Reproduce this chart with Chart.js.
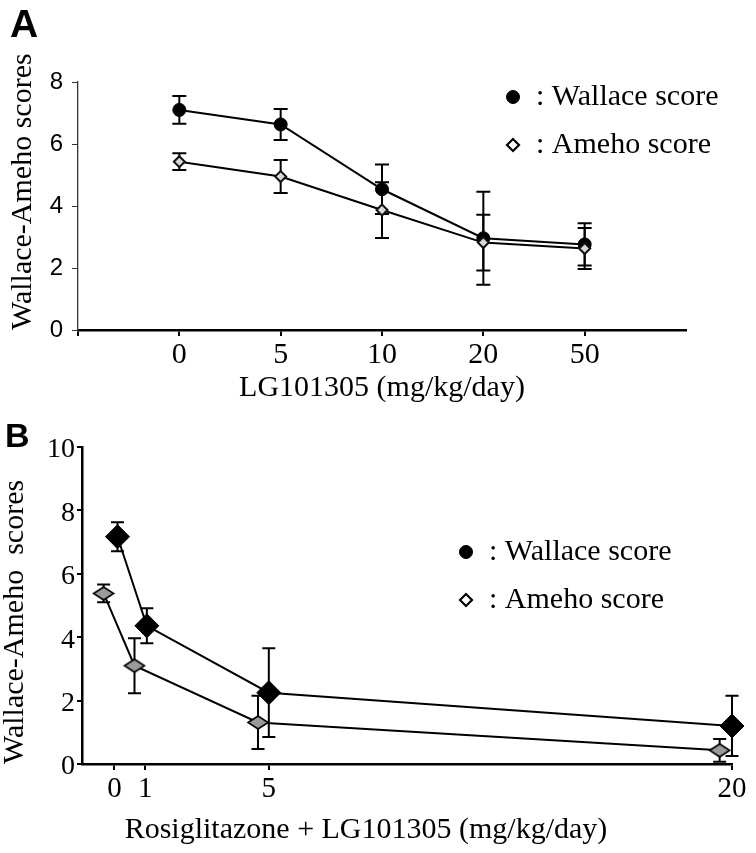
<!DOCTYPE html>
<html><head><meta charset="utf-8">
<script src="https://cdn.jsdelivr.net/npm/chart.js@4.4.1/dist/chart.umd.min.js"></script>
<style>
html,body{margin:0;padding:0;background:#fff;width:756px;height:853px;overflow:hidden;position:relative}
canvas{position:absolute;left:0}
#cA{top:0}
#cB{top:405px}
.lbl{position:absolute;font-family:'Liberation Sans',Arial,sans-serif;font-weight:bold;line-height:1;color:#000}
</style></head><body>
<canvas id="cA" width="756" height="405"></canvas>
<canvas id="cB" width="756" height="448"></canvas>
<div class="lbl" style="left:10px;top:4px;font-size:39px">A</div>
<div class="lbl" style="left:5px;top:418px;font-size:34px">B</div>
<script>
// ---------- Panel A data ----------
const xLabelsA = ['0', '5', '10', '20', '50'];
const wallaceA = [7.10, 6.63, 4.54, 2.96, 2.76];
const wallaceErrA = [0.45, 0.50, 0.80, 1.50, 0.68];
const amehoA = [5.43, 4.95, 3.87, 2.82, 2.63];
const amehoErrA = [0.27, 0.53, 0.90, 0.90, 0.66];
const yTicksA = [0, 2, 4, 6, 8];

// ---------- Panel B data ----------
const xTicksB = [0, 1, 5, 20];
const wallaceXB = [0.10, 1.05, 5.00, 20.00];
const wallaceB = [7.17, 4.36, 2.25, 1.20];
const wallaceErrB = [0.46, 0.55, 1.40, 0.95];
const amehoXB = [-0.35, 0.65, 4.65, 19.60];
const amehoB = [5.38, 3.10, 1.31, 0.43];
const amehoErrB = [0.28, 0.87, 0.84, 0.36];
const yTicksB = [0, 2, 4, 6, 8, 10];

const seriesNames = ['Wallace score', 'Ameho score'];

const SERIF = "'Liberation Serif','Times New Roman',serif";
const SANS = "'Liberation Sans',Arial,sans-serif";

Chart.defaults.animation = false;
Chart.defaults.responsive = false;
Chart.defaults.devicePixelRatio = 1;
Chart.defaults.plugins.legend.display = false;
Chart.defaults.plugins.tooltip.enabled = false;

const errorBars = {
  id: 'errorBars',
  beforeDatasetsDraw(chart, args, o) {
    const ctx = chart.ctx, xs = chart.scales.x, ys = chart.scales.y;
    chart.data.datasets.forEach(ds => {
      if (!ds.errors) return;
      ctx.save();
      ctx.strokeStyle = '#000';
      ctx.lineWidth = o.lineWidth;
      ds.data.forEach((p, i) => {
        const e = ds.errors[i];
        const x = xs.getPixelForValue(p.x);
        const y1 = ys.getPixelForValue(p.y + e), y2 = ys.getPixelForValue(p.y - e);
        ctx.beginPath();
        ctx.moveTo(x, y1); ctx.lineTo(x, y2);
        ctx.moveTo(x - o.cap, y1); ctx.lineTo(x + o.cap, y1);
        ctx.moveTo(x - o.cap, y2); ctx.lineTo(x + o.cap, y2);
        ctx.stroke();
      });
      ctx.restore();
    });
  }
};

const sketchLegend = {
  id: 'sketchLegend',
  afterDraw(chart, args, o) {
    const ctx = chart.ctx;
    ctx.save();
    chart.data.datasets.forEach((ds, i) => {
      const m = o.markers[i];
      const y = o.y + i * o.gap;
      ctx.beginPath();
      if (m.shape === 'circle') {
        ctx.arc(o.mx, y, m.r, 0, Math.PI * 2);
      } else {
        ctx.moveTo(o.mx - m.r, y); ctx.lineTo(o.mx, y - m.r);
        ctx.lineTo(o.mx + m.r, y); ctx.lineTo(o.mx, y + m.r); ctx.closePath();
      }
      ctx.fillStyle = m.fill; ctx.fill();
      ctx.lineWidth = m.lw; ctx.strokeStyle = '#000'; ctx.stroke();
      ctx.fillStyle = '#000';
      ctx.font = o.font;
      ctx.textBaseline = 'middle';
      ctx.textAlign = 'left';
      ctx.fillText(': ' + ds.label, o.tx, y);
    });
    ctx.restore();
  }
};

// flattened grey diamond for panel B Ameho points
function flatDiamond(w, h, fill) {
  const c = document.createElement('canvas');
  c.width = w + 4; c.height = h + 4;
  const g = c.getContext('2d');
  g.beginPath();
  g.moveTo(2, 2 + h / 2); g.lineTo(2 + w / 2, 2); g.lineTo(2 + w, 2 + h / 2); g.lineTo(2 + w / 2, 2 + h); g.closePath();
  g.fillStyle = fill; g.fill();
  g.lineWidth = 1.6; g.strokeStyle = '#000'; g.stroke();
  return c;
}

// ---------------- Chart A ----------------
new Chart(document.getElementById('cA'), {
  type: 'line',
  data: {
    datasets: [
      {
        label: seriesNames[0],
        data: xLabelsA.map((_, i) => ({ x: i, y: wallaceA[i] })),
        errors: wallaceErrA,
        borderColor: '#000', borderWidth: 2,
        pointStyle: 'circle', pointRadius: 6.5,
        pointBackgroundColor: '#000', pointBorderColor: '#000', pointBorderWidth: 1,
        order: 1, clip: false
      },
      {
        label: seriesNames[1],
        data: xLabelsA.map((_, i) => ({ x: i, y: amehoA[i] })),
        errors: amehoErrA,
        borderColor: '#000', borderWidth: 2,
        pointStyle: 'rectRot', pointRadius: 5.5,
        pointBackgroundColor: '#d8d8d8', pointBorderColor: '#111', pointBorderWidth: 2,
        order: 0, clip: false
      }
    ]
  },
  options: {
    layout: { padding: { top: 82, right: 70, left: 0, bottom: 0 } },
    scales: {
      x: {
        type: 'linear', min: -1, max: xLabelsA.length,
        ticks: {
          stepSize: 1, autoSkip: false, maxRotation: 0,
          callback: v => (xLabelsA[v] !== undefined ? xLabelsA[v] : ''),
          font: { family: SERIF, size: 30, lineHeight: 1 }, color: '#000', padding: 4
        },
        grid: {
          drawOnChartArea: false, tickLength: 6, lineWidth: 2,
          color: c => (c.tick && c.tick.value === xLabelsA.length ? 'rgba(0,0,0,0)' : '#000')
        },
        border: { color: '#000', width: 2.5 },
        title: {
          display: true, text: 'LG101305 (mg/kg/day)', color: '#000',
          font: { family: SERIF, size: 30, lineHeight: 1 }, padding: { top: 0, bottom: 2 }
        },
        afterFit: s => { s.height = 75; }
      },
      y: {
        min: 0, max: 8,
        afterBuildTicks: s => { s.ticks = yTicksA.map(v => ({ value: v })); },
        ticks: { font: { family: SANS, size: 24, lineHeight: 1 }, color: '#000', padding: 9 },
        grid: { drawOnChartArea: false, tickLength: 6, color: '#333', lineWidth: 1 },
        border: { color: '#333', width: 1.3 },
        title: {
          display: true, text: 'Wallace-Ameho scores', align: 'start', color: '#000',
          font: { family: SERIF, size: 30, lineHeight: 1 }, padding: { top: 8, bottom: 0 }
        },
        afterFit: s => { s.width = 78; }
      }
    },
    plugins: {
      errorBars: { cap: 7, lineWidth: 2 },
      sketchLegend: {
        mx: 513, tx: 536, y: 97, gap: 48, font: '30px ' + SERIF,
        markers: [
          { shape: 'circle', r: 6.5, fill: '#000', lw: 1 },
          { shape: 'diamond', r: 6, fill: '#fff', lw: 2.2 }
        ]
      }
    }
  },
  plugins: [errorBars, sketchLegend]
});

// ---------------- Chart B ----------------
new Chart(document.getElementById('cB'), {
  type: 'line',
  data: {
    datasets: [
      {
        label: seriesNames[0],
        data: wallaceXB.map((x, i) => ({ x: x, y: wallaceB[i] })),
        errors: wallaceErrB,
        borderColor: '#000', borderWidth: 2,
        pointStyle: 'rectRot', pointRadius: 12,
        pointBackgroundColor: '#000', pointBorderColor: '#000', pointBorderWidth: 1,
        order: 1, clip: false
      },
      {
        label: seriesNames[1],
        data: amehoXB.map((x, i) => ({ x: x, y: amehoB[i] })),
        errors: amehoErrB,
        borderColor: '#000', borderWidth: 2,
        pointStyle: flatDiamond(20, 13, '#9a9a9a'), pointRadius: 9,
        order: 0, clip: false
      }
    ]
  },
  options: {
    layout: { padding: { top: 42, right: 24, left: 0, bottom: 0 } },
    scales: {
      x: {
        type: 'linear', min: -1.05, max: 20,
        afterBuildTicks: s => { s.ticks = xTicksB.map(v => ({ value: v })); },
        ticks: { autoSkip: false, maxRotation: 0, font: { family: SERIF, size: 29, lineHeight: 1 }, color: '#000', padding: 5 },
        grid: { drawOnChartArea: false, tickLength: 6, lineWidth: 2, color: '#000' },
        border: { color: '#000', width: 2.5 },
        afterFit: s => { s.height = 51; }
      },
      y: {
        min: 0, max: 10,
        afterBuildTicks: s => { s.ticks = yTicksB.map(v => ({ value: v })); },
        ticks: { font: { family: SERIF, size: 28, lineHeight: 1 }, color: '#000', padding: 2, labelOffset: 3 },
        grid: { drawOnChartArea: false, tickLength: 5, color: '#000', lineWidth: 2 },
        border: { color: '#000', width: 2.5 },
        title: {
          display: true, text: 'Wallace-Ameho  scores', align: 'start', color: '#000',
          font: { family: SERIF, size: 30, lineHeight: 1 }, padding: { top: 0, bottom: 0 }
        },
        afterFit: s => { s.width = 82; }
      }
    },
    plugins: {
      title: {
        display: true, position: 'bottom', text: 'Rosiglitazone + LG101305 (mg/kg/day)',
        color: '#000', font: { family: SERIF, size: 30, weight: 'normal', lineHeight: 1 },
        padding: { top: 0, bottom: 8 }
      },
      errorBars: { cap: 6.5, lineWidth: 2 },
      sketchLegend: {
        mx: 466, tx: 489, y: 147, gap: 48, font: '30px ' + SERIF,
        markers: [
          { shape: 'circle', r: 6.5, fill: '#000', lw: 1 },
          { shape: 'diamond', r: 6, fill: '#fff', lw: 2.2 }
        ]
      }
    }
  },
  plugins: [errorBars, sketchLegend]
});
</script>
</body></html>
